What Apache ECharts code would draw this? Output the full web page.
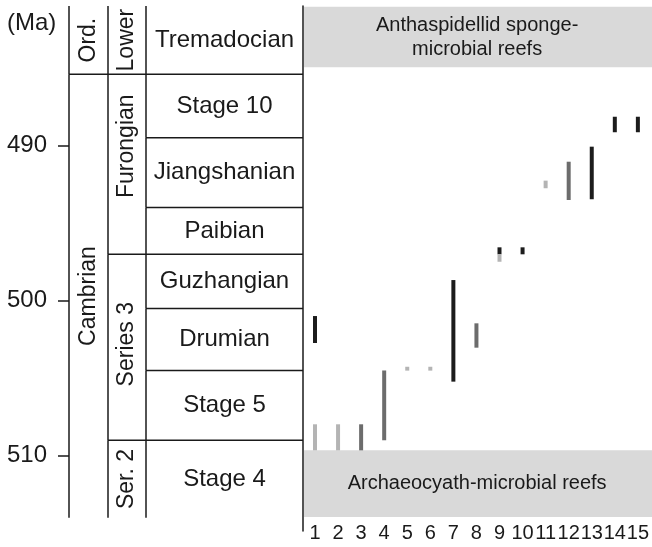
<!DOCTYPE html>
<html>
<head>
<meta charset="utf-8">
<script src="https://cdn.jsdelivr.net/npm/echarts@6/dist/echarts.min.js"></script>
<style>html,body{margin:0;padding:0;background:#fff}#main{width:652px;height:547px}</style>
</head>
<body>
<div id="main"></div>
<script>
// ---- data ----
const systemNames = ['Ord.', 'Cambrian'];
const systemTops = [481, 485.4];
const systemBases = [485.4, 514];

const seriesNames = ['Lower', 'Furongian', 'Series 3', 'Ser. 2'];
const seriesTops = [481, 485.4, 497, 509];
const seriesBases = [485.4, 497, 509, 514];

const stageNames = ['Tremadocian', 'Stage 10', 'Jiangshanian', 'Paibian', 'Guzhangian', 'Drumian', 'Stage 5', 'Stage 4'];
const stageTops = [481, 485.4, 489.5, 494, 497, 500.5, 504.5, 509];
const stageBases = [485.4, 489.5, 494, 497, 500.5, 504.5, 509, 514];

const maTicks = [490, 500, 510];
const sectionLabels = ['1','2','3','4','5','6','7','8','9','10','11','12','13','14','15'];

const reefNames = ['Anthaspidellid sponge-\nmicrobial reefs', 'Archaeocyath-microbial reefs'];
const reefTops = [481.05, 509.65];
const reefBases = [484.95, 513.95];

// occurrence ranges: section number, top (Ma), base (Ma), tone
const rangeSection = [1, 1, 2, 3, 4, 5, 6, 7, 8, 9, 9, 10, 11, 12, 13, 14, 15];
const rangeTop =     [500.99, 507.97, 507.97, 507.97, 504.5, 504.26, 504.26, 498.67, 501.46, 496.56, 497.01, 496.56, 492.26, 491.04, 490.07, 488.14, 488.14];
const rangeBase =    [502.73, 509.65, 509.65, 509.65, 509.0, 504.51, 504.51, 505.22, 503.03, 497.01, 497.49, 497.01, 492.75, 493.51, 493.46, 489.14, 489.14];
const rangeTone =    ['black','light','light','dark','dark','light','light','black','dark','black','light','black','light','dark','black','black','black'];

// ---- layout / style ----
const FONT = '"Liberation Sans", Arial, sans-serif';
const TEXT = '#1a1a1a';
const toneColor = { black: '#1c1c1c', dark: '#6c6c6c', light: '#b4b4b4' };
const yMin = 481, yMax = 514.85;
const colEdges = [0, 39, 77, 234];
const labelShiftPx = { 'Furongian': -18, 'Series 3': -3 };
const colFontSize = [23, 23, 24];

const cells = [];
systemNames.forEach((n, i) => cells.push({ col: 0, name: n, top: systemTops[i], base: systemBases[i] }));
seriesNames.forEach((n, i) => cells.push({ col: 1, name: n, top: seriesTops[i], base: seriesBases[i] }));
stageNames.forEach((n, i) => cells.push({ col: 2, name: n, top: stageTops[i], base: stageBases[i] }));

const chart = echarts.init(document.getElementById('main'));

const lineStyle = { stroke: TEXT, lineWidth: 1.5 };

const option = {
  animation: false,
  textStyle: { fontFamily: FONT },
  grid: [
    { left: 69, top: 6, width: 234, height: 525 },
    { left: 303, top: 6, right: 0, height: 525 }
  ],
  xAxis: [
    { gridIndex: 0, type: 'value', min: 0, max: 234, show: false },
    {
      gridIndex: 1, type: 'value', min: 0.48, max: 15.58,
      axisLine: { show: false }, axisTick: { show: false }, splitLine: { show: false },
      axisLabel: {
        customValues: sectionLabels.map(s => Number(s)),
        formatter: v => sectionLabels[Math.round(v) - 1] || '',
        fontSize: 20, color: TEXT, margin: -8, fontFamily: FONT
      }
    }
  ],
  yAxis: [
    {
      gridIndex: 0, type: 'value', inverse: true, min: yMin, max: yMax,
      axisLine: { show: false },
      axisTick: { show: true, customValues: maTicks, length: 11, lineStyle: { color: TEXT, width: 1.5 } },
      axisLabel: { customValues: maTicks, fontSize: 24, margin: 22, color: TEXT, fontFamily: FONT },
      splitLine: { show: false }
    },
    {
      gridIndex: 1, type: 'value', inverse: true, min: yMin, max: yMax,
      axisLine: { show: true, lineStyle: { color: TEXT, width: 1.5 } },
      axisTick: { show: false }, axisLabel: { show: false }, splitLine: { show: false }
    }
  ],
  graphic: [
    { type: 'text', left: 7, top: 11, style: { text: '(Ma)', fontSize: 24, fill: TEXT, fontFamily: FONT } }
  ],
  series: [
    {
      type: 'custom', xAxisIndex: 0, yAxisIndex: 0, z: 3,
      data: cells.map(c => [c.col, c.top, c.base]),
      renderItem: function (params, api) {
        const c = cells[params.dataIndex];
        const p0 = api.coord([colEdges[c.col], c.top]);
        const p1 = api.coord([colEdges[c.col + 1], c.base]);
        const children = [];
        children.push({ type: 'line', shape: { x1: p0[0], y1: p0[1], x2: p0[0], y2: p1[1] }, style: lineStyle });
        if (c.top > yMin) {
          children.push({ type: 'line', shape: { x1: p0[0], y1: p0[1], x2: p1[0], y2: p0[1] }, style: lineStyle });
        }
        const cx = (p0[0] + p1[0]) / 2;
        const cy = (p0[1] + p1[1]) / 2 + (labelShiftPx[c.name] || 0);
        children.push({
          type: 'text', x: cx, y: cy, rotation: c.col < 2 ? Math.PI / 2 : 0,
          style: { text: c.name, fontSize: colFontSize[c.col], fontFamily: FONT, fill: TEXT, align: 'center', verticalAlign: 'middle' }
        });
        return { type: 'group', children: children };
      }
    },
    {
      type: 'custom', xAxisIndex: 1, yAxisIndex: 1, z: 1,
      data: reefNames.map((n, i) => [1, reefTops[i], reefBases[i]]),
      renderItem: function (params, api) {
        const i = params.dataIndex;
        const p0 = api.coord([0.48, reefTops[i]]);
        const p1 = api.coord([15.58, reefBases[i]]);
        return {
          type: 'group', children: [
            { type: 'rect', shape: { x: p0[0] + 1, y: p0[1], width: p1[0] - p0[0], height: p1[1] - p0[1] }, style: { fill: '#d9d9d9' } },
            { type: 'text', x: (p0[0] + p1[0]) / 2, y: (p0[1] + p1[1]) / 2,
              style: { text: reefNames[i], fontSize: 20, lineHeight: 24, fontFamily: FONT, fill: TEXT, align: 'center', verticalAlign: 'middle' } }
          ]
        };
      }
    },
    {
      type: 'custom', xAxisIndex: 1, yAxisIndex: 1, z: 2,
      data: rangeSection.map((s, i) => [s, rangeTop[i], rangeBase[i]]),
      renderItem: function (params, api) {
        const i = params.dataIndex;
        const p0 = api.coord([api.value(0), api.value(1)]);
        const p1 = api.coord([api.value(0), api.value(2)]);
        return { type: 'rect', shape: { x: p0[0] - 2, y: p0[1], width: 4, height: p1[1] - p0[1] }, style: { fill: toneColor[rangeTone[i]] } };
      }
    }
  ]
};
chart.setOption(option);
</script>
</body>
</html>
